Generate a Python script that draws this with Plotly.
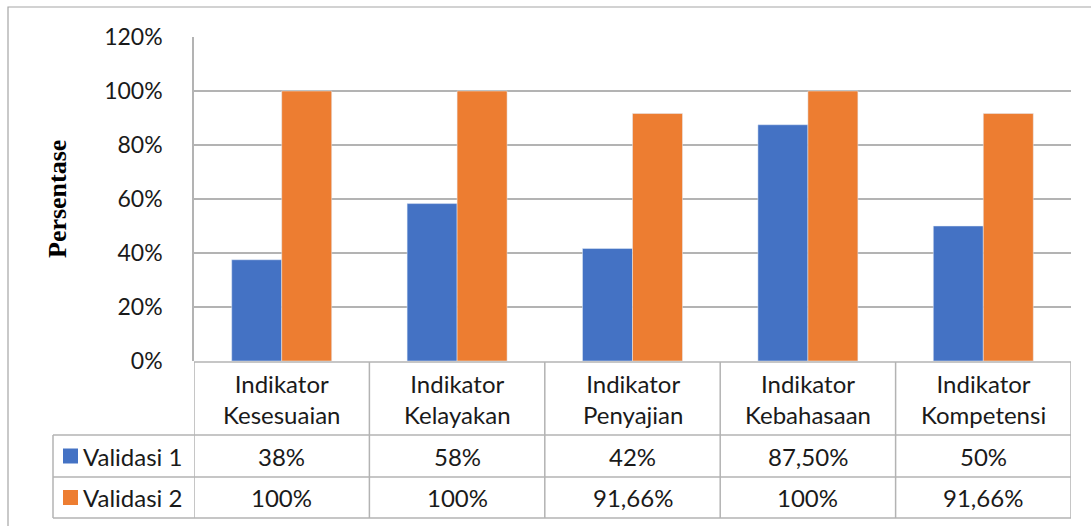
import plotly.graph_objects as go

categories = ["Indikator<br>Kesesuaian", "Indikator<br>Kelayakan", "Indikator<br>Penyajian",
              "Indikator<br>Kebahasaan", "Indikator<br>Kompetensi"]
series_names = ["Validasi 1", "Validasi 2"]
validasi1 = [0.375, 0.583, 0.4166, 0.875, 0.50]
validasi2 = [1.00, 1.00, 0.9166, 1.00, 0.9166]
validasi1_labels = ["38%", "58%", "42%", "87,50%", "50%"]
validasi2_labels = ["100%", "100%", "91,66%", "100%", "91,66%"]
colors = ["#4472C4", "#ED7D31"]

W, H = 1091, 526
FONT = "Lato"
GRID = "#b3b3b3"
TXT = "#1a1a1a"

def py(p):
    return 1 - p / H

def px(p):
    return p / W

x_idx = list(range(len(categories)))

fig = go.Figure()
fig.add_trace(go.Bar(x=x_idx, y=validasi1, name=series_names[0], marker_color=colors[0]))
fig.add_trace(go.Bar(x=x_idx, y=validasi2, name=series_names[1], marker_color=colors[1]))

plot_top, plot_bot = 37, 361
left, right = 194, 1071

shapes = []
ann = []
shapes.append(dict(type="line", xref="x", yref="paper", x0=-0.5, x1=4.5,
                   y0=py(362), y1=py(362), line=dict(color=GRID, width=1.5)))
for yy in [435, 477, 518]:
    shapes.append(dict(type="line", xref="paper", yref="paper", x0=px(53), x1=px(right),
                       y0=py(yy), y1=py(yy), line=dict(color=GRID, width=1.5)))
for i in range(len(categories) + 1):
    shapes.append(dict(type="line", xref="x", yref="paper", x0=i - 0.5, x1=i - 0.5,
                       y0=py(362), y1=py(518), line=dict(color=GRID, width=1.5)))
shapes.append(dict(type="line", xref="paper", yref="paper", x0=px(53), x1=px(53),
                   y0=py(435), y1=py(518), line=dict(color=GRID, width=1.5)))
# outer chart border
shapes.append(dict(type="rect", xref="paper", yref="paper", x0=px(8), x1=1.02,
                   y0=-0.02, y1=py(7), line=dict(color="#a6a6a6", width=1.2)))

for i, c in enumerate(categories):
    ann.append(dict(x=i, y=py(399), xref="x", yref="paper", text=c, showarrow=False,
                    xanchor="center", yanchor="middle",
                    font=dict(family=FONT, size=24, color=TXT), align="center"))
row_centers = [456, 497.5]
for r, (labels, name, col) in enumerate(zip([validasi1_labels, validasi2_labels], series_names, colors)):
    yc = row_centers[r]
    for i, t in enumerate(labels):
        ann.append(dict(x=i, y=py(yc), xref="x", yref="paper", text=t, showarrow=False,
                        xanchor="center", yanchor="middle",
                        font=dict(family=FONT, size=24, color=TXT)))
    shapes.append(dict(type="rect", xref="paper", yref="paper", x0=px(63), x1=px(78),
                       y0=py(yc + 7.5), y1=py(yc - 7.5), fillcolor=col, line=dict(width=0)))
    ann.append(dict(x=px(81), y=py(yc), xref="paper", yref="paper", text=name, showarrow=False,
                    xanchor="left", yanchor="middle", font=dict(family=FONT, size=24, color=TXT)))

ann.append(dict(x=px(57), y=py(199), xref="paper", yref="paper", text="<b>Persentase</b>",
                showarrow=False, textangle=-90, xanchor="center", yanchor="middle",
                font=dict(family="Liberation Serif", size=26, color="#000000")))

fig.update_layout(
    width=W, height=H, autosize=False,
    margin=dict(l=0, r=0, t=0, b=0, pad=0, autoexpand=False),
    paper_bgcolor="white", plot_bgcolor="white",
    barmode="group", bargap=0.43, bargroupgap=0,
    showlegend=False,
    shapes=shapes, annotations=ann,
    xaxis=dict(domain=[px(left), px(right)], range=[-0.5, 4.5], showticklabels=False,
               showgrid=False, zeroline=False, showline=False, fixedrange=True, automargin=False),
    yaxis=dict(domain=[py(plot_bot), py(plot_top)], range=[0, 1.2], dtick=0.2, tick0=0,
               tickformat=".0%", showgrid=True, gridcolor=GRID, gridwidth=1.5,
               showline=True, linecolor=GRID, linewidth=1.5, zeroline=False,
               ticks="outside", ticklen=0, ticklabelstandoff=25, automargin=False,
               tickfont=dict(family=FONT, size=23, color=TXT)),
    font=dict(family=FONT),
)

fig.write_html("out.html", config={"displayModeBar": False},
               post_script="document.body.style.margin='0';document.body.style.overflow='hidden';")
